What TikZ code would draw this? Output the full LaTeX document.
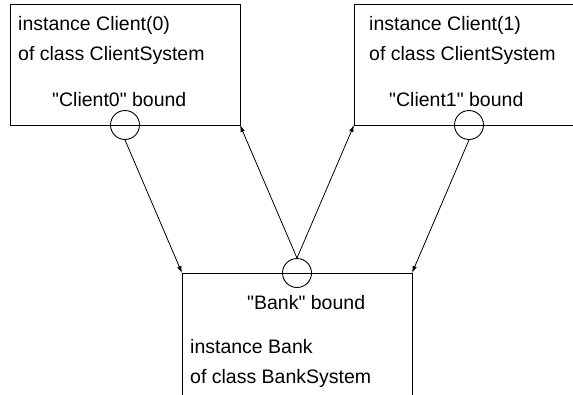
\documentclass[tikz,border=0pt]{standalone}
\usepackage{fontspec}
% plain family: no TeX ligature mapping, so " stays a straight quote
\newfontfamily\labelfont{Liberation Sans}
\usetikzlibrary{arrows.meta}
\begin{document}
\begin{tikzpicture}[x=1pt,y=-1pt,
  box/.style={line width=1pt,black},
  port/.style={circle,draw,line width=0.9pt,minimum size=29pt,inner sep=0pt},
  link/.style={line width=0.8pt,-{Latex[length=7pt,width=4.5pt]}},
  txt/.style={anchor=base west,inner sep=0pt,font=\labelfont\fontsize{19.5}{22}\selectfont}]
  \useasboundingbox (0,0) rectangle (573,394);
  \begin{scope}
  \clip (0,0) rectangle (573,394);
  % client 0 box
  \draw[box] (10,4) rectangle (240,125);
  % client 1 box (runs off to the right)
  \draw[box] (580,4) -- (354,4) -- (354,125) -- (580,125);
  % bank box (runs off below)
  \draw[box] (182,400) -- (182,273) -- (412,273) -- (412,400);
  \end{scope}
  % box corners the connectors point at
  \coordinate (c0br) at (240,125);
  \coordinate (c1bl) at (354,125);
  \coordinate (bktl) at (182,273);
  \coordinate (bktr) at (412,273);
  % bound ports
  \node[port] (p0) at (125,125) {};
  \node[port] (p1) at (469,125) {};
  \node[port] (pb) at (297,273) {};
  % texts
  \node[txt] (t0a) at (18,30) {instance Client(0)};
  \node[txt] (t0b) at (18,60) {of class ClientSystem};
  \node[txt] (t0c) at (52,106) {"Client0" bound};
  \node[txt] (t1a) at (369,30) {instance Client(1)};
  \node[txt] (t1b) at (369,60) {of class ClientSystem};
  \node[txt] (t1c) at (389,106) {"Client1" bound};
  \node[txt] (tba) at (247,309) {"Bank" bound};
  \node[txt] (tbb) at (190,353) {instance Bank};
  \node[txt] (tbc) at (190,383) {of class BankSystem};
  % connectors
  \draw[link] (p0.south) -- (bktl);
  \draw[link] (p1.south) -- (bktr);
  \draw[link] (pb.north) -- (c0br);
  \draw[link] (pb.north) -- (c1bl);
\end{tikzpicture}
\end{document}
